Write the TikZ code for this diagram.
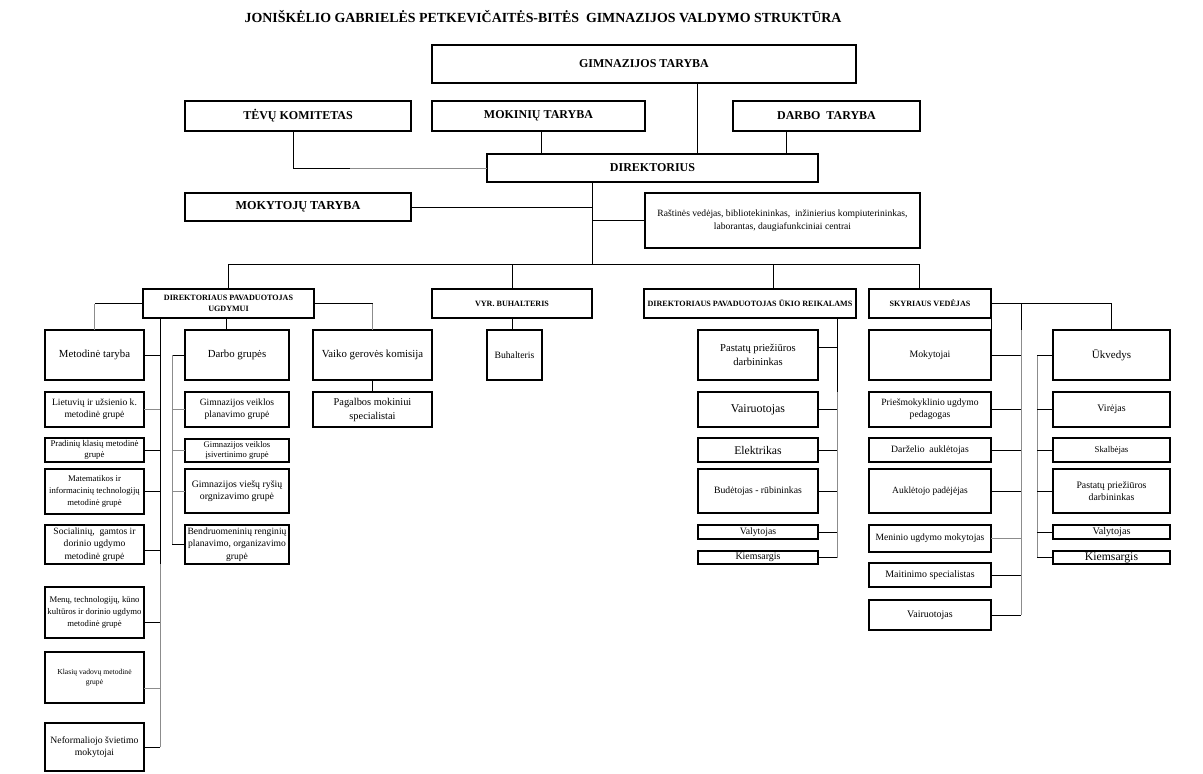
\documentclass[tikz,border=0pt]{standalone}
\usepackage{fontspec}
\setmainfont{Liberation Serif}
\newcommand{\myfs}[2]{\fontsize{#1}{#2}\selectfont}
\newcommand{\bx}[7][]{%
  \pgfmathsetmacro{\bxcx}{(#3+#5)/2}%
  \pgfmathsetmacro{\bxcy}{(#4+#6)/2}%
  \pgfmathsetmacro{\bxw}{#5-#3}%
  \pgfmathsetmacro{\bxh}{#6-#4}%
  \node[box,minimum width=\bxw pt,minimum height=\bxh pt] (#2) at (\bxcx,\bxcy) {};
  \node[txt,#1] at (#2.center) {#7};}
\tikzset{
  box/.style={draw, line width=1.8pt, inner sep=0pt, outer sep=0pt},
  txt/.style={align=center, inner sep=0pt},
  ln/.style={line width=0.7pt},
  lng/.style={line width=0.7pt, draw=black!45},
}
\begin{document}
\begin{tikzpicture}[x=1pt,y=-1pt]
\useasboundingbox (0,0) rectangle (1203,774);
\node[txt,font=\bfseries\myfs{13.9}{16}] (title) at (543,17) {JONIŠKĖLIO GABRIELĖS PETKEVIČAITĖS-BITĖS\ \ GIMNAZIJOS VALDYMO STRUKTŪRA};

% top level
\bx[font=\bfseries\myfs{12}{14}]{gt}{432}{45}{856}{83}{GIMNAZIJOS TARYBA}
\bx[font=\bfseries\myfs{12}{14}]{tk}{185}{101}{411}{131}{TĖVŲ KOMITETAS}
\bx[font=\bfseries\myfs{12}{14}]{mt}{432}{101}{645}{131}{MOKINIŲ TARYBA}
\bx[font=\bfseries\myfs{12}{14}]{dt}{733}{101}{920}{131}{DARBO\ \ TARYBA}
\bx[font=\bfseries\myfs{12}{14}]{dir}{487}{154}{818}{182}{DIREKTORIUS}
\bx[font=\bfseries\myfs{12.2}{14}]{mokt}{185}{193}{411}{221}{MOKYTOJŲ TARYBA}
\bx[font=\myfs{9.6}{12.5}]{rast}{645}{193}{920}{248}{Raštinės vedėjas, bibliotekininkas,\ \ inžinierius kompiuterininkas,\\laborantas, daugiafunkciniai centrai}

% second level
\bx[font=\bfseries\myfs{8.1}{11}]{pu}{143}{289}{314}{318}{DIREKTORIAUS PAVADUOTOJAS\\UGDYMUI}
\bx[font=\bfseries\myfs{8.1}{9}]{vb}{432}{289}{592}{318}{VYR. BUHALTERIS}
\bx[font=\bfseries\myfs{8.1}{9}]{uk}{644}{289}{856}{318}{DIREKTORIAUS PAVADUOTOJAS ŪKIO REIKALAMS}
\bx[font=\bfseries\myfs{8.1}{9}]{sv}{869}{289}{991}{318}{SKYRIAUS VEDĖJAS}

% left column
\bx[font=\myfs{10.8}{12}]{met}{45}{330}{144}{380}{Metodinė taryba}
\bx[font=\myfs{9.6}{11.7}]{liet}{45}{392}{144}{427}{Lietuvių ir užsienio k.\\metodinė grupė}
\bx[font=\myfs{8.8}{11.5}]{prad}{45}{438}{144}{462}{Pradinių klasių metodinė\\grupė}
\bx[font=\myfs{8.7}{11.7}]{mat}{45}{469}{144}{514}{Matematikos ir\\informacinių technologijų\\metodinė grupė}
\bx[font=\myfs{9.6}{12.3}]{soc}{45}{525}{144}{564}{Socialinių,\ \ gamtos ir\\dorinio ugdymo\\metodinė grupė}
\bx[font=\myfs{8.7}{12}]{menu}{45}{587}{144}{638}{Menų, technologijų, kūno\\kultūros ir dorinio ugdymo\\metodinė grupė}
\bx[font=\myfs{7.6}{10.3}]{klas}{45}{652}{144}{703}{Klasių vadovų metodinė\\grupė}
\bx[font=\myfs{9.7}{11.7}]{nef}{45}{723}{144}{771}{Neformaliojo švietimo\\mokytojai}

% darbo grupes column
\bx[font=\myfs{10.8}{12}]{dg}{185}{330}{289}{380}{Darbo grupės}
\bx[font=\myfs{9.6}{12}]{gvp}{185}{392}{289}{427}{Gimnazijos veiklos\\planavimo grupė}
\bx[font=\myfs{8.6}{10.7}]{gvi}{185}{439}{289}{462}{Gimnazijos veiklos\\įsivertinimo grupė}
\bx[font=\myfs{9.8}{12}]{gvr}{185}{469}{289}{513}{Gimnazijos viešų ryšių\\orgnizavimo grupė}
\bx[font=\myfs{9.6}{12.5}]{bend}{185}{525}{289}{564}{Bendruomeninių renginių\\planavimo, organizavimo\\grupė}

% vaiko geroves
\bx[font=\myfs{10.8}{12}]{vgk}{313}{330}{432}{380}{Vaiko gerovės komisija}
\bx[font=\myfs{10.4}{14}]{pms}{313}{392}{432}{427}{Pagalbos mokiniui\\specialistai}

% buhalteris
\bx[font=\myfs{9.7}{11}]{buh}{487}{330}{542}{380}{Buhalteris}

% ukio column
\bx[font=\myfs{10.6}{13.3}]{ppd}{698}{330}{818}{380}{Pastatų priežiūros\\darbininkas}
\bx[font=\myfs{11.9}{13}]{vair}{698}{392}{818}{427}{Vairuotojas}
\bx[font=\myfs{11.7}{13}]{elek}{698}{438}{818}{462}{Elektrikas}
\bx[font=\myfs{9.7}{11}]{bud}{698}{469}{818}{513}{Budėtojas - rūbininkas}
\bx[font=\myfs{9.8}{11}]{valy}{698}{525}{818}{539}{Valytojas}
\bx[font=\myfs{9.9}{11}]{kiem}{698}{551}{818}{564}{Kiemsargis}

% skyriaus left column
\bx[font=\myfs{9.8}{11}]{mok}{869}{330}{991}{380}{Mokytojai}
\bx[font=\myfs{9.6}{12.3}]{pries}{869}{392}{991}{427}{Priešmokyklinio ugdymo\\pedagogas}
\bx[font=\myfs{9.7}{11}]{darz}{869}{438}{991}{462}{Darželio\ \ auklėtojas}
\bx[font=\myfs{9.5}{11}]{aukp}{869}{469}{991}{513}{Auklėtojo padėjėjas}
\bx[font=\myfs{9.6}{11}]{men}{869}{525}{991}{552}{Meninio ugdymo mokytojas}
\bx[font=\myfs{9.9}{11}]{mait}{869}{563}{991}{587}{Maitinimo specialistas}
\bx[font=\myfs{10}{11}]{vair2}{869}{600}{991}{630}{Vairuotojas}

% skyriaus right column
\bx[font=\myfs{11}{13}]{ukv}{1053}{330}{1170}{380}{Ūkvedys}
\bx[font=\myfs{10}{11}]{vir}{1053}{392}{1170}{427}{Virėjas}
\bx[font=\myfs{8.8}{11}]{skal}{1053}{438}{1170}{462}{Skalbėjas}
\bx[font=\myfs{9.8}{12}]{ppd2}{1053}{469}{1170}{513}{Pastatų priežiūros\\darbininkas}
\bx[font=\myfs{10.2}{11}]{valy2}{1053}{525}{1170}{539}{Valytojas}
\bx[font=\myfs{11.7}{13}]{kiem2}{1053}{551}{1170}{564}{Kiemsargis}

% helper coordinates
\coordinate (xgt) at (697,0);
\coordinate (xmt) at (541,0);
\coordinate (xdt) at (786,0);
\coordinate (trunk) at (592,0);
\coordinate (bus) at (0,264);
\coordinate (xsv) at (919,0);
\coordinate (xuk) at (773,0);
\coordinate (xdgv) at (226,0);
\coordinate (xl) at (160,0);
\coordinate (xdgl) at (172,0);
\coordinate (xuk2) at (837,0);
\coordinate (xsvl) at (1021,0);
\coordinate (xsvr) at (1037,0);
\coordinate (xtg) at (350,0);

% top connectors
\draw[ln] (gt.south -| xgt) -- (dir.north -| xgt);
\draw[ln] (mt.south -| xmt) -- (dir.north -| xmt);
\draw[ln] (dt.south -| xdt) -- (dir.north -| xdt);
\draw[ln] ([xshift=-5pt]tk.south) |- (dir.west -| xtg);
\draw[lng] (dir.west -| xtg) -- (dir.west);
\draw[ln] (dir.south -| trunk) -- (trunk |- bus);
\draw[ln] (mokt.east) -- (mokt.east -| trunk);
\draw[ln] (rast.west) -- (rast.west -| trunk);
\draw[ln] (pu.north) -- (pu.north |- bus) -- (bus -| xsv) -- (sv.north -| xsv);
\draw[ln] (vb.north) -- (vb.north |- bus);
\draw[ln] (uk.north -| xuk) -- (xuk |- bus);

% pavaduotojas ugdymui
\draw[ln] (pu.west) -- (pu.west -| met.north);
\draw[lng] (pu.west -| met.north) -- (met.north);
\draw[ln] (pu.east) -- (pu.east -| vgk.north);
\draw[lng] (pu.east -| vgk.north) -- (vgk.north);
\draw[ln] (pu.south -| xdgv) -- (dg.north -| xdgv);
\draw[ln] (pu.south -| xl) -- (soc.south -| xl);
\draw[lng] (soc.south -| xl) -- (nef.east -| xl);
\draw[ln] (nef.east -| xl) -- (nef.east);
\foreach \n in {met,prad,mat} \draw[ln] (\n.east) -- (\n.east -| xl);
\draw[lng] (liet.east) -- (liet.east -| xl);
\draw[ln] ([yshift=-6pt]soc.east) -- ([yshift=-6pt]soc.east -| xl);
\draw[ln] ([yshift=-10pt]menu.east) -- ([yshift=-10pt]menu.east -| xl);
\draw[lng] ([yshift=-11pt]klas.east) -- ([yshift=-11pt]klas.east -| xl);
\draw[ln] (dg.west) -- (dg.west -| xdgl);
\draw[lng] (dg.west -| xdgl) -- (bend.west -| xdgl);
\draw[ln] (bend.west -| xdgl) -- (bend.west);
\foreach \n in {gvp,gvi,gvr} \draw[lng] (\n.west) -- (\n.west -| xdgl);
\draw[ln] (vgk.south) -- (pms.north);

% buhalteris
\draw[ln] (vb.south) -- (vb.south |- buh.north);

% ukio reikalams
\draw[ln] (uk.south -| xuk2) -- (vair.north -| xuk2);
\draw[lng] (vair.north -| xuk2) -- (kiem.east -| xuk2);
\draw[ln] (kiem.east -| xuk2) -- (kiem.east);
\draw[ln] ([yshift=8pt]ppd.east) -- ([yshift=8pt]ppd.east -| xuk2);
\foreach \n in {vair,elek,bud,valy} \draw[ln] (\n.east) -- (\n.east -| xuk2);

% skyriaus vedejas
\draw[ln] (sv.east) -| (ukv.north);
\draw[ln] (sv.east -| xsvl) -- (mok.north -| xsvl);
\draw[lng] (mok.north -| xsvl) -- (vair2.east -| xsvl);
\draw[ln] (vair2.east -| xsvl) -- (vair2.east);
\foreach \n in {mok,pries,darz,aukp,mait} \draw[ln] (\n.east) -- (\n.east -| xsvl);
\draw[lng] (men.east) -- (men.east -| xsvl);
\draw[lng] (ukv.west -| xsvr) -- (kiem2.west -| xsvr);
\draw[ln] (kiem2.west -| xsvr) -- (kiem2.west);
\foreach \n in {ukv,vir,skal,ppd2,valy2} \draw[ln] (\n.west) -- (\n.west -| xsvr);
\draw[ln] (sv.south east) -- (mok.north east);
\end{tikzpicture}
\end{document}
